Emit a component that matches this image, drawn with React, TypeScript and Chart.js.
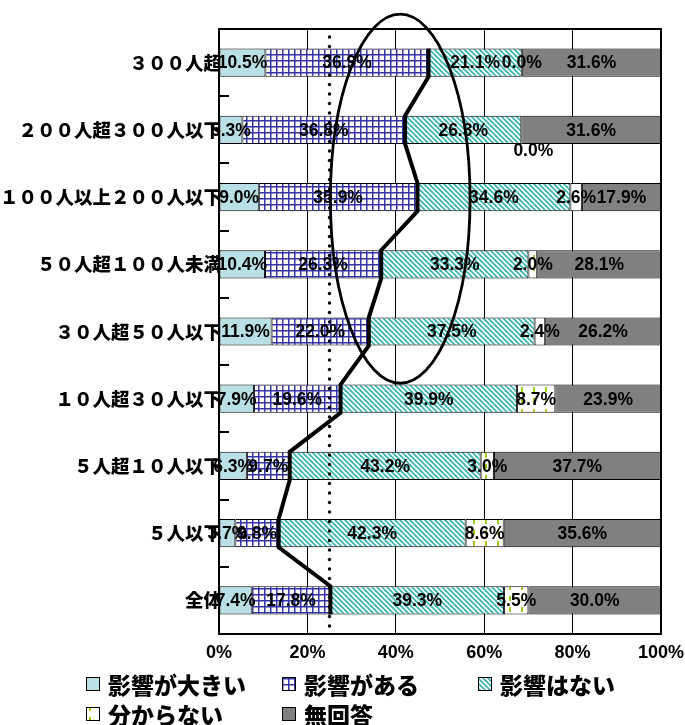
import React, { useEffect, useRef } from 'react';
import { Chart, registerables } from 'chart.js';
Chart.register(...registerables);

const categories = [
  '３００人超',
  '２００人超３００人以下',
  '１００人以上２００人以下',
  '５０人超１００人未満',
  '３０人超５０人以下',
  '１０人超３０人以下',
  '５人超１０人以下',
  '５人以下',
  '全体',
];
const seriesNames = ['影響が大きい', '影響がある', '影響はない', '分からない', '無回答'];
const bigImpact = [10.5, 5.3, 9.0, 10.4, 11.9, 7.9, 6.3, 3.7, 7.4];
const someImpact = [36.9, 36.8, 35.9, 26.3, 22.0, 19.6, 9.7, 9.8, 17.8];
const noImpact = [21.1, 26.3, 34.6, 33.3, 37.5, 39.9, 43.2, 42.3, 39.3];
const unknown = [0.0, 0.0, 2.6, 2.0, 2.4, 8.7, 3.0, 8.6, 5.5];
const noAnswer = [31.6, 31.6, 17.9, 28.1, 26.2, 23.9, 37.7, 35.6, 30.0];
const xTickValues = [0, 20, 40, 60, 80, 100];
const referenceValue = 25;

const CJK = "'Noto Sans CJK JP', 'Noto Sans CJK SC', sans-serif";
const LAT = "'Liberation Sans', Arial, sans-serif";

function tile(w: number, h: number, draw: (c: CanvasRenderingContext2D) => void) {
  const cv = document.createElement('canvas');
  cv.width = w;
  cv.height = h;
  const c = cv.getContext('2d')!;
  c.fillStyle = '#ffffff';
  c.fillRect(0, 0, w, h);
  draw(c);
  return cv;
}

export default function App() {
  const ref = useRef<HTMLCanvasElement>(null);

  useEffect(() => {
    const canvas = ref.current!;
    const ctx = canvas.getContext('2d')!;

    const gridPat = ctx.createPattern(
      tile(6, 6, (c) => {
        c.fillStyle = '#3434a8';
        c.fillRect(0, 0, 6, 1);
        c.fillRect(0, 0, 1, 6);
        c.fillStyle = 'rgba(52,52,168,0.5)';
        c.fillRect(0, 1, 6, 1);
        c.fillRect(1, 0, 1, 6);
      }),
      'repeat'
    )!;
    const diagPat = ctx.createPattern(
      tile(5, 5, (c) => {
        c.strokeStyle = '#3fb5b5';
        c.lineWidth = 1.8;
        for (let k = -1; k <= 1; k++) {
          c.beginPath();
          c.moveTo(-1, -1 + 5 * k);
          c.lineTo(6, 6 + 5 * k);
          c.stroke();
        }
      }),
      'repeat'
    )!;
    const unkPat = ctx.createPattern(
      tile(12, 11, (c) => {
        c.fillStyle = '#9acd1a';
        c.fillRect(5, 2, 2, 5);
      }),
      'repeat'
    )!;

    const fills: any[] = ['#b9e1e5', gridPat, diagPat, unkPat, '#808080'];
    const values = [bigImpact, someImpact, noImpact, unknown, noAnswer];

    const overlay = {
      id: 'overlay',
      beforeDraw(chart: any) {
        const c = chart.ctx;
        c.save();
        c.fillStyle = '#ffffff';
        c.fillRect(0, 0, chart.width, chart.height);
        c.restore();
      },
      afterDatasetsDraw(chart: any) {
        const c: CanvasRenderingContext2D = chart.ctx;
        const xs = chart.scales.x;
        const ys = chart.scales.y;
        const a = chart.chartArea;
        c.save();

        // plot frame
        c.strokeStyle = '#000';
        c.lineWidth = 2;
        c.strokeRect(a.left, a.top, a.right - a.left, a.bottom - a.top);

        // inner tick marks on category axis
        c.lineWidth = 2;
        for (let i = 0; i < categories.length - 1; i++) {
          const y = Math.round((ys.getPixelForValue(i) + ys.getPixelForValue(i + 1)) / 2);
          c.beginPath();
          c.moveTo(a.left, y);
          c.lineTo(a.left + 10, y);
          c.stroke();
        }

        // dotted reference line
        const rx = xs.getPixelForValue(referenceValue);
        c.fillStyle = '#000';
        for (let y = a.top + 8; y <= a.bottom; y += 9.5) {
          c.beginPath();
          c.arc(rx, y, 1.7, 0, Math.PI * 2);
          c.fill();
        }

        // series line along the end of the 2nd segment
        const meta = chart.getDatasetMeta(1);
        c.beginPath();
        meta.data.forEach((el: any, i: number) => {
          const p = el.getProps(['x', 'y', 'height'], true);
          const t = p.y - p.height / 2;
          const b = p.y + p.height / 2;
          if (i === 0) c.moveTo(p.x, t);
          else c.lineTo(p.x, t);
          c.lineTo(p.x, b);
        });
        c.lineWidth = 4;
        c.lineJoin = 'miter';
        c.strokeStyle = '#000';
        c.stroke();

        // data labels
        c.font = `bold 17.5px ${LAT}`;
        c.fillStyle = '#000';
        c.textAlign = 'center';
        c.textBaseline = 'middle';
        values.forEach((arr, d) => {
          const m = chart.getDatasetMeta(d);
          m.data.forEach((el: any, i: number) => {
            const p = el.getProps(['x', 'y', 'base'], true);
            let cx = (p.x + p.base) / 2;
            let cy = p.y + 1;
            if (d === 3 && i === 1) {
              cx += 12;
              cy += 20;
            }
            c.fillText(arr[i].toFixed(1) + '%', cx, cy);
          });
        });

        // ellipse annotation
        const ex = xs.getPixelForValue(41);
        const erx = xs.getPixelForValue(41 + 15.8) - ex;
        const eTop = ys.getPixelForValue(-0.72);
        const eBot = ys.getPixelForValue(4.77);
        c.beginPath();
        c.ellipse(ex, (eTop + eBot) / 2, erx, (eBot - eTop) / 2, 0, 0, Math.PI * 2);
        c.lineWidth = 2.8;
        c.strokeStyle = '#000';
        c.stroke();

        // legend
        const cols = [86, 282, 478];
        const rows = [684, 714];
        c.font = `900 23px ${CJK}`;
        c.textAlign = 'left';
        c.textBaseline = 'middle';
        seriesNames.forEach((name, k) => {
          const col = k < 3 ? k : k - 3;
          const row = k < 3 ? 0 : 1;
          const bx = cols[col];
          const by = rows[row] - 7;
          c.fillStyle = fills[k];
          c.fillRect(bx, by, 13, 13);
          c.lineWidth = 1;
          c.strokeStyle = '#000';
          c.strokeRect(bx + 0.5, by + 0.5, 13, 13);
          c.fillStyle = '#000';
          c.fillText(name, bx + 22, rows[row] + 1);
        });

        c.restore();
      },
    };

    const chart = new Chart(ctx, {
      type: 'bar',
      data: {
        labels: categories,
        datasets: values.map((arr, d) => ({
          label: seriesNames[d],
          data: arr,
          backgroundColor: fills[d],
          borderColor: '#000',
          borderWidth: 1,
          borderSkipped: false,
          barPercentage: 0.42,
          categoryPercentage: 1,
        })),
      },
      options: {
        indexAxis: 'y',
        responsive: false,
        devicePixelRatio: 1,
        animation: false,
        layout: { padding: { left: 0, top: 29, right: 24, bottom: 61 } },
        plugins: { legend: { display: false }, tooltip: { enabled: false } },
        scales: {
          x: {
            stacked: true,
            min: 0,
            max: 100,
            afterBuildTicks: (s: any) => {
              s.ticks = xTickValues.map((v) => ({ value: v }));
            },
            afterFit: (s: any) => {
              s.height = 30;
              s.paddingLeft = 0;
              s.paddingRight = 0;
            },
            ticks: {
              callback: (v: any) => `${v}%`,
              color: '#000',
              font: { family: LAT, size: 18, weight: 'bold' },
              padding: 8,
              maxRotation: 0,
            },
            grid: { color: '#000', lineWidth: 1, drawTicks: false },
            border: { display: false },
          },
          y: {
            stacked: true,
            afterFit: (s: any) => {
              s.width = 219;
              s.paddingTop = 0;
              s.paddingBottom = 0;
            },
            ticks: {
              color: '#000',
              font: { family: CJK, size: 18.5, weight: '900' },
              padding: -3,
            },
            grid: { display: false, drawTicks: false },
            border: { display: false },
          },
        },
      },
      plugins: [overlay],
    } as any);

    return () => chart.destroy();
  }, []);

  return (
    <div style={{ position: 'absolute', left: 0, top: 0, width: 685, height: 725, background: '#fff' }}>
      <canvas ref={ref} width={685} height={725} style={{ display: 'block', width: 685, height: 725 }} />
    </div>
  );
}
